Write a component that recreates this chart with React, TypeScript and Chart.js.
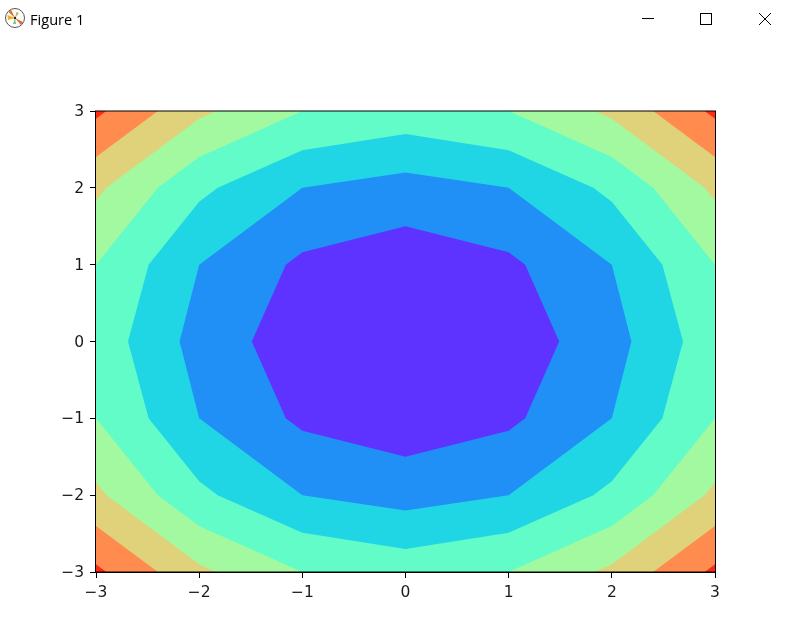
import React, { useEffect, useRef } from "react";
import { Chart, registerables } from "chart.js";

Chart.register(...registerables);

// Contour levels of the filled plot; each list traces the upper-right quarter of one level's boundary.
const contour2_5 = [[1.49, 0], [1.16, 1], [1, 1.16], [0, 1.5]];
const contour5 = [[2.19, 0], [2, 1], [1, 2], [0, 2.2]];
const contour7_5 = [[2.69, 0], [2.49, 1], [2, 1.82], [1.82, 2], [1, 2.49], [0, 2.7]];
const contour10 = [[3, 0], [3, 1], [2.4, 2], [2, 2.4], [1, 3], [0, 3]];
const contour12_5 = [[3, 0], [3, 1.833], [2.9, 2], [2, 2.9], [1.833, 3], [0, 3]];
const contour15 = [[3, 0], [3, 2.4], [2.4, 3], [0, 3]];
const contour17_5 = [[3, 0], [3, 2.9], [2.9, 3], [0, 3]];
const contourMax = [[3, 0], [3, 3], [0, 3]];

const bandColors = ["#5e33ff", "#2190f6", "#21d6e4", "#62fcc8", "#a3f9a0", "#e0d27a", "#ff8c4e", "#ff2a16"];
const bandContours = [contour2_5, contour5, contour7_5, contour10, contour12_5, contour15, contour17_5, contourMax];
const tickValues = [-3, -2, -1, 0, 1, 2, 3];
const windowTitle = "Figure 1";

function wholeLoop(quarter: number[][]) {
  const ur = quarter.map(([x, y]) => ({ x, y }));
  const ul = [...quarter].reverse().map(([x, y]) => ({ x: -x, y }));
  const ll = quarter.map(([x, y]) => ({ x: -x, y: -y }));
  const lr = [...quarter].reverse().map(([x, y]) => ({ x, y: -y }));
  return [...ur, ...ul, ...ll, ...lr];
}

const tickLabel = (v: number | string) => String(v).replace("-", "\u2212");

const frame = {
  id: "frame",
  afterDatasetsDraw(chart: any) {
    const { ctx, chartArea: a } = chart;
    ctx.save();
    ctx.strokeStyle = "#000";
    ctx.lineWidth = 1;
    ctx.strokeRect(Math.round(a.left) - 0.5, Math.round(a.top), a.right - a.left + 1, a.bottom - a.top);
    ctx.restore();
  },
};

export default function App() {
  const ref = useRef<HTMLCanvasElement>(null);
  useEffect(() => {
    const font = { family: "'DejaVu Sans'", size: 15.5 };
    const axis = (position: string, fit: (s: any) => void, padding: number, labelOffset: number) => ({
      type: "linear",
      position,
      min: -3,
      max: 3,
      afterFit: fit,
      afterBuildTicks: (s: any) => {
        s.ticks = tickValues.map((value) => ({ value }));
      },
      grid: { drawOnChartArea: false, drawTicks: true, tickLength: 6, tickColor: "#000", tickWidth: 1 },
      border: { color: "#000", width: 1 },
      ticks: {
        color: "#1a1a1a",
        font,
        padding,
        labelOffset,
        maxRotation: 0,
        autoSkip: false,
        callback: tickLabel,
      },
    });
    const chart = new Chart(ref.current!, {
      type: "scatter",
      data: {
        datasets: bandContours.map((c, i) => ({
          label: `band ${i}`,
          data: wholeLoop(c),
          showLine: true,
          fill: "shape",
          backgroundColor: bandColors[i],
          borderWidth: 0,
          pointRadius: 0,
          pointHoverRadius: 0,
          tension: 0,
        })),
      },
      options: {
        responsive: false,
        animation: false,
        events: [],
        layout: { padding: { left: 0, top: 111, right: 73, bottom: 0 } },
        plugins: { legend: { display: false }, tooltip: { enabled: false }, title: { display: false } },
        scales: {
          x: axis("bottom", (s: any) => { s.height = 48; }, 6, 0),
          y: axis("left", (s: any) => { s.width = 96; }, 6, 1),
        },
      } as any,
      plugins: [frame],
    } as any);
    return () => chart.destroy();
  }, []);

  return (
    <div style={{ position: "absolute", left: 0, top: 0, width: 788, height: 620, background: "#fff", overflow: "hidden" }}>
      <canvas ref={ref} width={788} height={620} style={{ position: "absolute", left: 0, top: 0, display: "block" }} />
      <svg width={22} height={22} viewBox="0 0 22 22" style={{ position: "absolute", left: 4, top: 7 }}>
        <circle cx={11} cy={11} r={9.5} fill="#fff" stroke="#555" strokeWidth={1} />
        <path d="M11 11 L3.5 8 L4 13 Z" fill="#f0b020" />
        <path d="M11 11 L7 2.5 L4.5 5 Z" fill="#e87020" />
        <path d="M11 11 L17 18 L19 15 Z" fill="#e06a30" />
        <path d="M11 11 L12.5 5 L15 6 Z" fill="#9cc070" />
        <path d="M11 11 L9 17 L12 17 Z" fill="#80c080" />
        <circle cx={11} cy={11} r={1.2} fill="#222" />
      </svg>
      <div style={{ position: "absolute", left: 30, top: 11, font: "14.6px 'Open Sans', sans-serif", color: "#000", lineHeight: "16px" }}>
        {windowTitle}
      </div>
      <svg width={168} height={30} viewBox="0 0 168 30" style={{ position: "absolute", left: 620, top: 4 }}>
        <path d="M22 14.5 H34" stroke="#000" strokeWidth={1} fill="none" />
        <rect x={80.5} y={9.5} width={11} height={11} stroke="#000" strokeWidth={1} fill="none" />
        <path d="M139 9 L151 21 M151 9 L139 21" stroke="#000" strokeWidth={1} fill="none" />
      </svg>
    </div>
  );
}
